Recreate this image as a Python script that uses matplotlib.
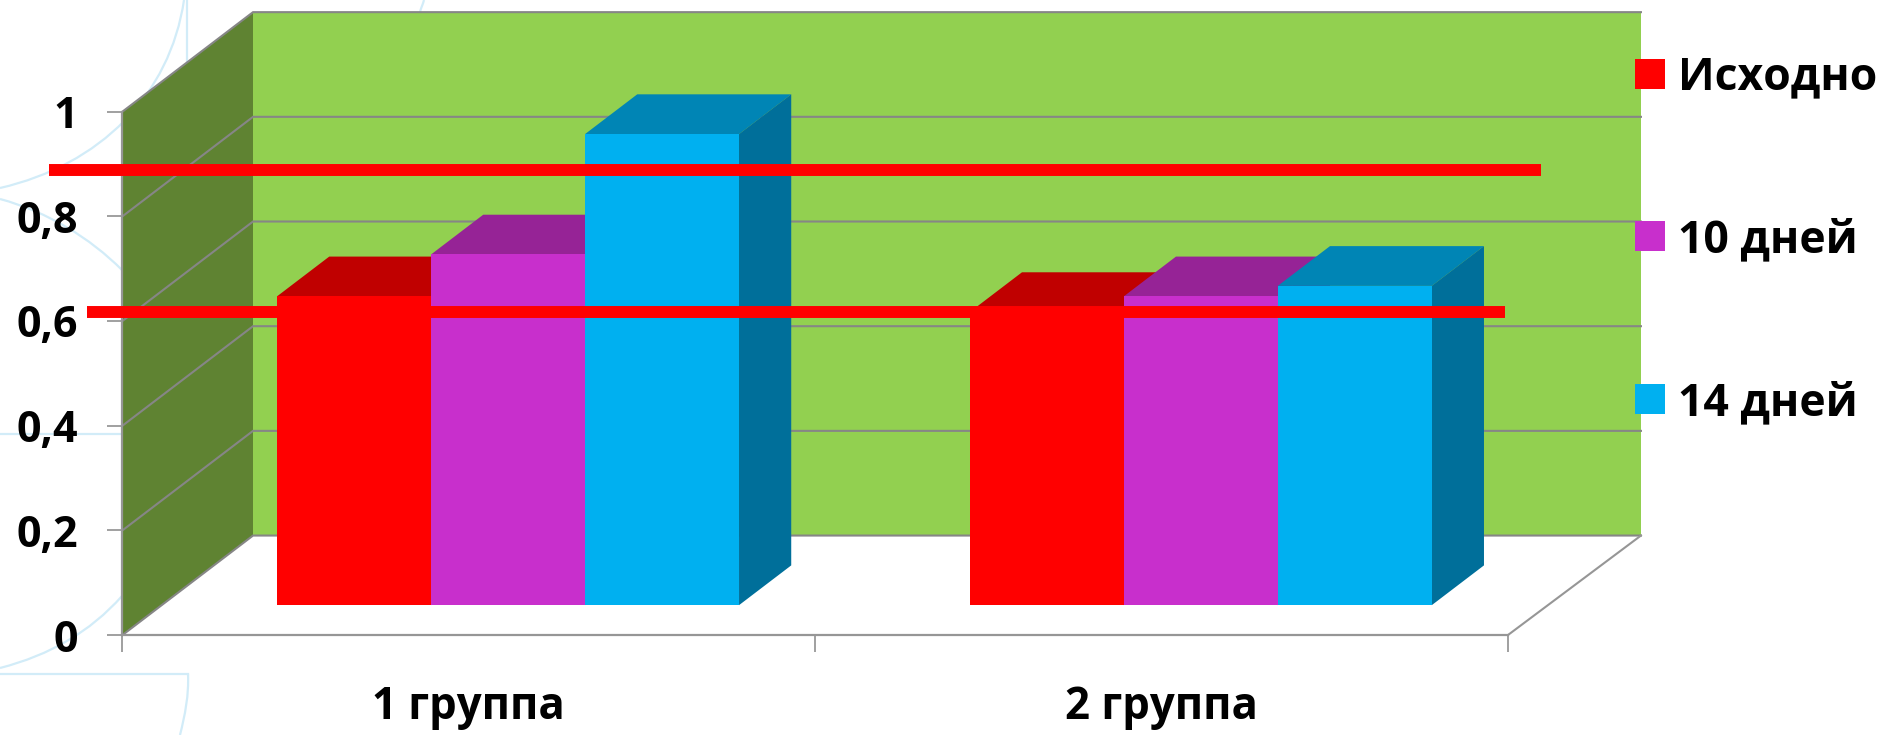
"""Grouped pseudo-3D column chart with two reference lines and a faint page ornament."""

import matplotlib
matplotlib.use("Agg")
import matplotlib.pyplot as plt
from matplotlib.patches import PathPatch, Polygon, Rectangle
from matplotlib.path import Path

plt.rcParams["font.family"] = ["Open Sans", "DejaVu Sans"]
plt.rcParams["font.weight"] = "bold"

GROUPS = ["1 группа", "2 группа"]
SERIES = ["Исходно", "10 дней", "14 дней"]
VALUES_BY_SERIES = [
    [0.59, 0.56],
    [0.67, 0.59],
    [0.90, 0.61],
]
Y_TICKS = [0, 0.2, 0.4, 0.6, 0.8, 1]
Y_LABELS = ["0", "0,2", "0,4", "0,6", "0,8", "1"]

REF_VALUES = [0.888, 0.617]
REF_SPANS = [(-0.106, 2.048), (-0.051, 1.995)]

FRONT_COLORS = ["#FF0000", "#C82FCC", "#00B0F0"]
TOP_COLORS = ["#C00000", "#962396", "#0085B5"]
SIDE_COLORS = ["#C00000", "#962396", "#006F9A"]

WIDTH, HEIGHT = 1890, 735
GRID = "#868686"

# Oblique projection: one unit of depth moves a point this far in data units
DEPTH_X = 0.1884
DEPTH_Y = 0.190
BAR_WIDTH = 0.2223
BAR_DEPTH = (0.30, 0.70)
BACK_RIGHT = 2.0035


def project(x, value, depth):
    return x + depth * DEPTH_X, value + depth * DEPTH_Y


def face(ax, points, color, zorder):
    ax.add_patch(Polygon(points, closed=True, fc=color, ec="none",
                         clip_on=False, zorder=zorder))


def draw_bar(ax, left, value, idx, zorder):
    right = left + BAR_WIDTH
    near, far = BAR_DEPTH
    face(ax, [project(left, 0, near), project(right, 0, near),
              project(right, value, near), project(left, value, near)],
         FRONT_COLORS[idx], zorder + 0.2)
    face(ax, [project(left, value, near), project(right, value, near),
              project(right, value, far), project(left, value, far)],
         TOP_COLORS[idx], zorder)
    face(ax, [project(right, 0, near), project(right, 0, far),
              project(right, value, far), project(right, value, near)],
         SIDE_COLORS[idx], zorder)


def draw_ornament(page):
    color = "#D2ECF8"
    curves = [
        [(184, 0), (170, 95), (100, 165), (0, 188)],
        [(0, 199), (48, 212), (90, 238), (122, 270)],
        [(122, 596), (90, 632), (50, 655), (0, 668)],
        [(188, 674), (189, 695), (185, 715), (180, 735)],
        [(424, 0), (423, 4), (421, 8), (420, 12)],
    ]
    for pts in curves:
        codes = [Path.MOVETO, Path.CURVE4, Path.CURVE4, Path.CURVE4]
        page.add_patch(PathPatch(Path(pts, codes), fc="none", ec=color, lw=1.6))
    page.plot([187, 187], [0, 62], color=color, lw=1.6)
    page.plot([0, 122], [434, 434], color=color, lw=1.6)
    page.plot([0, 188], [674, 674], color=color, lw=1.6)


def main():
    fig = plt.figure(figsize=(WIDTH / 100, HEIGHT / 100), dpi=100)

    # Page layer in pixel coordinates, y pointing down
    page = fig.add_axes([0, 0, 1, 1], zorder=0)
    page.set_xlim(0, WIDTH)
    page.set_ylim(HEIGHT, 0)
    page.axis("off")
    draw_ornament(page)

    x0, x1, y0, y1 = 122.5, 1508.0, 635.0, 111.6
    ax = fig.add_axes([x0 / WIDTH, 1 - y0 / HEIGHT, (x1 - x0) / WIDTH, (y0 - y1) / HEIGHT],
                      zorder=1)
    ax.patch.set_alpha(0)
    ax.set_xlim(0, len(GROUPS))
    ax.set_ylim(0, 1)

    # Walls
    face(ax, [project(0, 0, 0), project(0, 0, 1), project(0, 1, 1), project(0, 1, 0)],
         "#5F8332", 1)
    face(ax, [project(0, 0, 1), project(BACK_RIGHT, 0, 1),
              project(BACK_RIGHT, 1, 1), project(0, 1, 1)], "#92D050", 1)

    # Gridlines run across the side wall and then along the back wall
    for v in Y_TICKS:
        pts = [project(0, v, 0), project(0, v, 1), project(BACK_RIGHT, v, 1)]
        ax.plot(*zip(*pts), color=GRID, lw=1.5, clip_on=False, zorder=2,
                solid_joinstyle="miter")
    # Floor edge on the right
    pts = [project(len(GROUPS), 0, 0), project(BACK_RIGHT, 0, 1)]
    ax.plot(*zip(*pts), color="#969696", lw=1.5, clip_on=False, zorder=2)

    # Columns, left to right so nearer faces cover the previous side
    z = 3
    for g in range(len(GROUPS)):
        start = g + 0.5 - 1.5 * BAR_WIDTH
        for s, vals in enumerate(VALUES_BY_SERIES):
            draw_bar(ax, start + s * BAR_WIDTH, vals[g], s, z)
            z += 1

    # Reference lines
    for v, (a, b) in zip(REF_VALUES, REF_SPANS):
        ax.plot([a, b], [v, v], color="#FF0000", lw=8.6, clip_on=False, zorder=50,
                solid_capstyle="butt")

    for side in ("top", "right"):
        ax.spines[side].set_visible(False)
    for side in ("left", "bottom"):
        ax.spines[side].set_color("#969696")
        ax.spines[side].set_linewidth(1.6)
        ax.spines[side].set_zorder(20)

    ax.set_yticks(Y_TICKS, Y_LABELS)
    ax.set_xticks(range(len(GROUPS) + 1), [""] * (len(GROUPS) + 1))
    ax.set_xticks([i + 0.5 for i in range(len(GROUPS))], GROUPS, minor=True)
    ax.tick_params(axis="y", length=10.8, width=1.1, color=GRID, pad=21, labelsize=31)
    ax.tick_params(axis="x", which="major", length=12, width=1.1, color=GRID)
    ax.tick_params(axis="x", which="minor", length=0, pad=36, labelsize=31.5)

    # Legend keys and labels
    legend_layer = fig.add_axes([0, 0, 1, 1], zorder=2)
    legend_layer.set_xlim(0, WIDTH)
    legend_layer.set_ylim(HEIGHT, 0)
    legend_layer.axis("off")
    for name, color, y in zip(SERIES, FRONT_COLORS, [73.5, 236, 399]):
        legend_layer.add_patch(Rectangle((1634.5, y - 15), 30, 30, fc=color, ec="none"))
        legend_layer.text(1678, y - 1, name, fontsize=32, va="center_baseline", ha="left")

    fig.savefig("out.png", dpi=100)


if __name__ == "__main__":
    main()
